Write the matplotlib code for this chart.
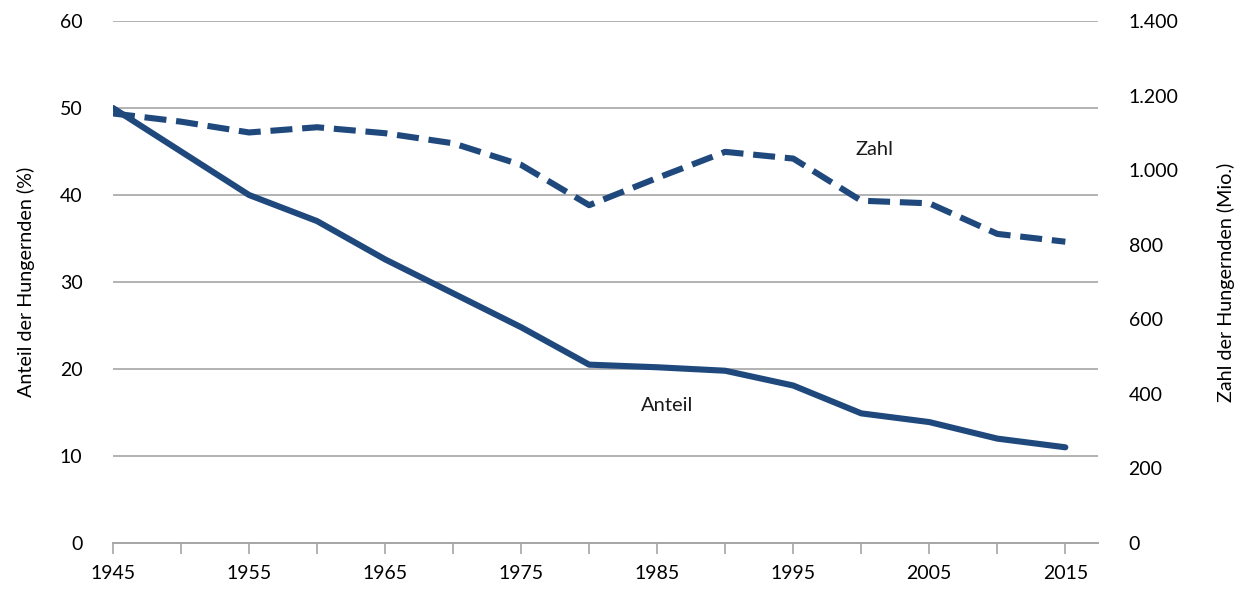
#!/usr/bin/env python3
import matplotlib.pyplot as plt
from matplotlib.ticker import FixedLocator, FuncFormatter

# Daten
jahre = [1945, 1950, 1955, 1960, 1965, 1970, 1975, 1980, 1985, 1990, 1995, 2000, 2005, 2010, 2015]
anteil = [50, 45, 40, 37, 32.6, 28.7, 24.8, 20.5, 20.2, 19.8, 18.1, 14.9, 13.9, 12.0, 11.0]
zahl = [1152, 1130, 1101, 1115, 1099, 1072, 1014, 906, 979, 1049, 1031, 918, 911, 829, 808]

x_labels = [1945, 1955, 1965, 1975, 1985, 1995, 2005, 2015]
left_ticks = [0, 10, 20, 30, 40, 50, 60]
right_ticks = [0, 200, 400, 600, 800, 1000, 1200, 1400]

BLUE = "#1F497D"
GRID = "#A6A6A6"

plt.rcParams.update({
    "font.family": ["Lato", "DejaVu Sans"],
    "font.size": 14,
    "text.color": "#1a1a1a",
})

fig = plt.figure(figsize=(12.47, 5.91), dpi=100)
ax = fig.add_axes([0.0906, 0.0812, 0.7899, 0.8833])
ax2 = ax.twinx()

ax.set_xlim(1945, 2017.4)
ax.set_ylim(0, 60)
ax2.set_ylim(0, 1400)

ax.yaxis.set_major_locator(FixedLocator(left_ticks))
ax2.yaxis.set_major_locator(FixedLocator(right_ticks))
ax2.yaxis.set_major_formatter(FuncFormatter(lambda v, p: f"{int(v):,}".replace(",", ".")))
ax.grid(axis="y", color=GRID, linewidth=1.2)
ax.set_axisbelow(True)

ax.xaxis.set_major_locator(FixedLocator(x_labels))
ax.xaxis.set_minor_locator(FixedLocator(jahre))
ax.tick_params(axis="x", which="both", length=8, color=GRID, width=1.2, pad=8, labelsize=14)
ax.tick_params(axis="y", length=0, pad=22, labelsize=14)
ax2.tick_params(axis="y", length=0, pad=22, labelsize=14)

for a in (ax, ax2):
    for s in ("top", "left", "right"):
        a.spines[s].set_visible(False)
    a.spines["bottom"].set_color(GRID)
    a.spines["bottom"].set_linewidth(1.2)

ax.plot(jahre, anteil, color=BLUE, linewidth=4.4, solid_capstyle="round",
        solid_joinstyle="round", zorder=3)
ax2.plot(jahre, zahl, color=BLUE, linewidth=4.4, dashes=(3.6, 1.6),
         dash_capstyle="butt", zorder=3)

ax.text(1985.7, 15.8, "Anteil", fontsize=14.5, ha="center", va="center")
ax2.text(2001.0, 1055, "Zahl", fontsize=14.5, ha="center", va="center")

ax.set_ylabel("Anteil der Hungernden (%)", fontsize=14.2, labelpad=18)
ax2.set_ylabel("Zahl der Hungernden (Mio.)", fontsize=14.2, rotation=90, labelpad=28)

fig.savefig("out.png", dpi=100)
